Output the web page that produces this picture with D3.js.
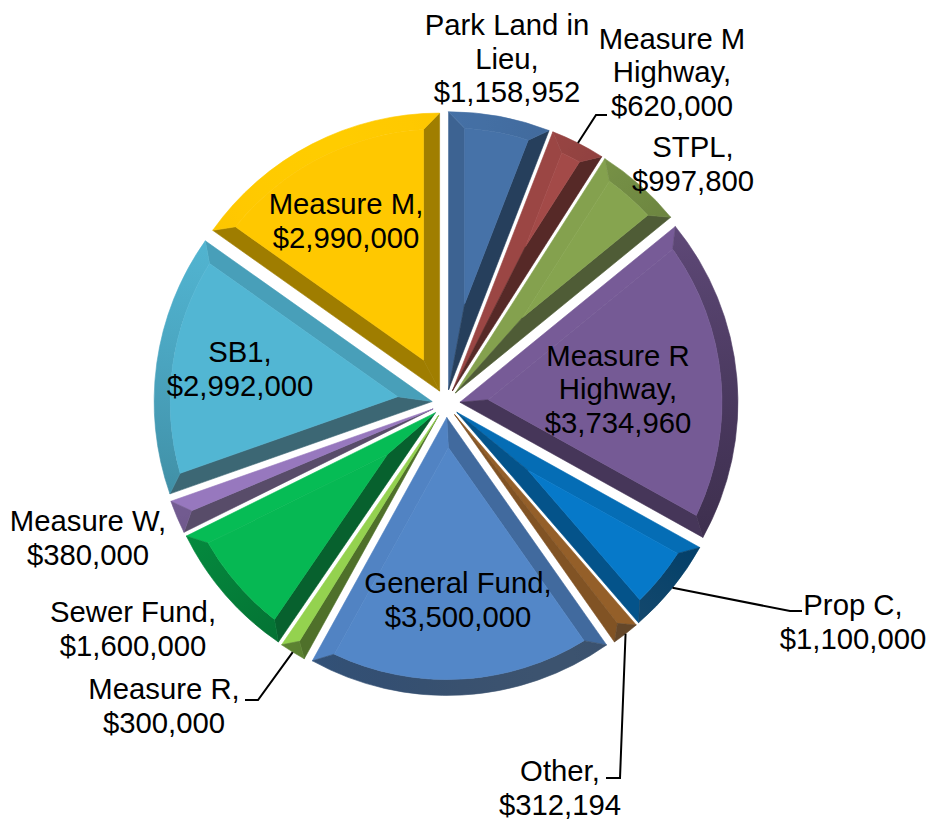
<!DOCTYPE html>
<html>
<head>
<meta charset="utf-8">
<script src="https://cdn.jsdelivr.net/npm/d3@7"></script>
<style>
    html, body { margin: 0; padding: 0; background: #fff; }
    svg { display: block; }
    text { font-family: "Liberation Sans", Arial, sans-serif; font-size: 29.3px; fill: #000; }
</style>
</head>
<body>
<svg id="chart" width="930" height="822"></svg>
<script>
// Chart data
var categories = ['Park Land in Lieu', 'Measure M Highway', 'STPL', 'Measure R Highway', 'Prop C', 'Other',
    'General Fund', 'Measure R', 'Sewer Fund', 'Measure W', 'SB1', 'Measure M'];
var values = [1158952, 620000, 997800, 3734960, 1100000, 312194, 3500000, 300000, 1600000, 380000, 2992000, 2990000];
var colors = ['#4672a8', '#a34a48', '#86a44f', '#755a95', '#0679c9', '#b57432',
    '#5387c8', '#96d550', '#06b853', '#9476bb', '#52b6d3', '#ffc800'];
var labelNames = [['Park Land in', 'Lieu,'], ['Measure M', 'Highway,'], ['STPL,'], ['Measure R', 'Highway,'], ['Prop C,'], ['Other,'],
    ['General Fund,'], ['Measure R,'], ['Sewer Fund,'], ['Measure W,'], ['SB1,'], ['Measure M,']];

// Hand placed labels, [centre x, first baseline]
var labelPos = [[507, 35], [672, 48.5], [693, 157], [618, 365.5], [853, 615], [560, 781],
    [458, 593], [164, 699], [133, 622], [88, 531], [240, 362], [346, 214]];

// Leader lines go from the slice edge through these points
var leaders = {
    1: [[596, 115], [607, 115]],
    4: [[790, 611], [802, 611]],
    5: [[620, 778], [606, 778]],
    7: [[258, 700], [245, 700]]
};

var cx = 446, cy = 403.5;
var radius = 278;
var explode = 14;
var bevel = 16;
var lineHeight = 33.7;

var svg = d3.select('#chart');
var defs = svg.append('defs');
var pie = d3.pie().sort(null).value(function(d) { return d; });
var money = d3.format('$,');
var line = d3.line();

// Light comes from the upper left, so facets get darker facing the lower right.
// Facets looking straight down also wash out towards grey
function shade(color, nx, ny) {
    var f = 0.75 + 0.27 * (-0.45 * nx - 0.89 * ny);
    var k = 0.3 * Math.max(0, (ny - 0.5) / 0.5) * Math.min(1, Math.max(0, nx + 0.5));
    f += k / 3;
    var c = d3.rgb(color);
    return d3.rgb(
        c.r * f * (1 - k) + 110 * k,
        c.g * f * (1 - k) + 110 * k,
        c.b * f * (1 - k) + 110 * k
    ).formatHex();
}

function drawSlice(g, d, i, color) {
    var a0 = d.startAngle, a1 = d.endAngle;
    var mid = (a0 + a1) / 2;
    var half = (a1 - a0) / 2;
    var ox = cx + explode * Math.sin(mid);
    var oy = cy - explode * Math.cos(mid);

    function polar(r, a) {
        return [ox + r * Math.sin(a), oy - r * Math.cos(a)];
    }

    // Thin stroke in the same colour closes the hairlines between facets
    function facet(points, fill) {
        g.append('path')
            .attr('d', line(points) + 'Z')
            .attr('fill', fill)
            .attr('stroke', fill)
            .attr('stroke-width', 0.6)
            .attr('stroke-linejoin', 'round');
    }

    var apex = polar(0, mid);
    var ri = radius - bevel;
    var hasFace = bevel / ri < Math.sin(half);
    var da = Math.asin(bevel / ri);
    var in0 = hasFace ? a0 + da : mid;
    var in1 = hasFace ? a1 - da : mid;
    // Where the bevels meet: the face tip, or the one point on thin slices
    var tipR = hasFace ? bevel / Math.sin(half) : radius / (1 + Math.sin(half));
    var tip = polar(tipR, mid);
    var innerR = hasFace ? ri : tipR;

    // Start and end edge bevels
    facet([apex, polar(radius, a0), polar(innerR, in0), tip], shade(color, -Math.cos(a0), -Math.sin(a0)));
    facet([apex, polar(radius, a1), polar(innerR, in1), tip], shade(color, Math.cos(a1), Math.sin(a1)));

    // Outer bevel, the gradient runs along the chord so the shade follows the curve
    var from = polar(radius, a0), to = polar(radius, a1);
    var chordX = to[0] - from[0], chordY = to[1] - from[1];
    var chordLen = chordX * chordX + chordY * chordY;
    var grad = defs.append('linearGradient')
        .attr('id', 'rim' + i)
        .attr('gradientUnits', 'userSpaceOnUse')
        .attr('x1', from[0]).attr('y1', from[1])
        .attr('x2', to[0]).attr('y2', to[1]);
    d3.range(9).forEach(function(k) {
        var a = a0 + (a1 - a0) * k / 8;
        var p = polar(radius, a);
        grad.append('stop')
            .attr('offset', ((p[0] - from[0]) * chordX + (p[1] - from[1]) * chordY) / chordLen)
            .attr('stop-color', shade(color, Math.sin(a), -Math.cos(a)));
    });

    var rim = d3.path();
    rim.moveTo(from[0], from[1]);
    rim.arc(ox, oy, radius, a0 - Math.PI / 2, a1 - Math.PI / 2);
    if (hasFace) {
        rim.arc(ox, oy, innerR, in1 - Math.PI / 2, in0 - Math.PI / 2, true);
    } else {
        rim.lineTo(tip[0], tip[1]);
    }
    rim.closePath();
    g.append('path')
        .attr('d', rim.toString())
        .attr('fill', 'url(#rim' + i + ')')
        .attr('stroke', 'url(#rim' + i + ')')
        .attr('stroke-width', 0.6);

    // Flat top of the slice
    if (hasFace) {
        var face = d3.path();
        face.moveTo(tip[0], tip[1]);
        face.arc(ox, oy, ri, in0 - Math.PI / 2, in1 - Math.PI / 2);
        face.closePath();
        g.append('path')
            .attr('d', face.toString())
            .attr('fill', color)
            .attr('stroke', color)
            .attr('stroke-width', 0.6);
    }
}

var arcs = pie(values);

var sliceGroup = svg.append('g').attr('class', 'slices');
arcs.forEach(function(d, i) {
    drawSlice(sliceGroup.append('g').attr('class', 'slice'), d, i, colors[i]);
});

// Leader lines
var leaderGroup = svg.append('g').attr('class', 'leaders');
Object.keys(leaders).forEach(function(key) {
    var d = arcs[key];
    var mid = (d.startAngle + d.endAngle) / 2;
    var r = radius + explode;
    var start = [cx + r * Math.sin(mid), cy - r * Math.cos(mid)];
    leaderGroup.append('path')
        .attr('d', line([start].concat(leaders[key])))
        .attr('fill', 'none')
        .attr('stroke', '#000')
        .attr('stroke-width', 2);
});

// Labels
var labelGroup = svg.append('g').attr('class', 'labels');
arcs.forEach(function(d, i) {
    var text = labelGroup.append('text')
        .attr('text-anchor', 'middle');
    labelNames[i].concat([money(values[i])]).forEach(function(s, j) {
        text.append('tspan')
            .attr('x', labelPos[i][0])
            .attr('y', labelPos[i][1] + j * lineHeight)
            .text(s);
    });
});
</script>
</body>
</html>
